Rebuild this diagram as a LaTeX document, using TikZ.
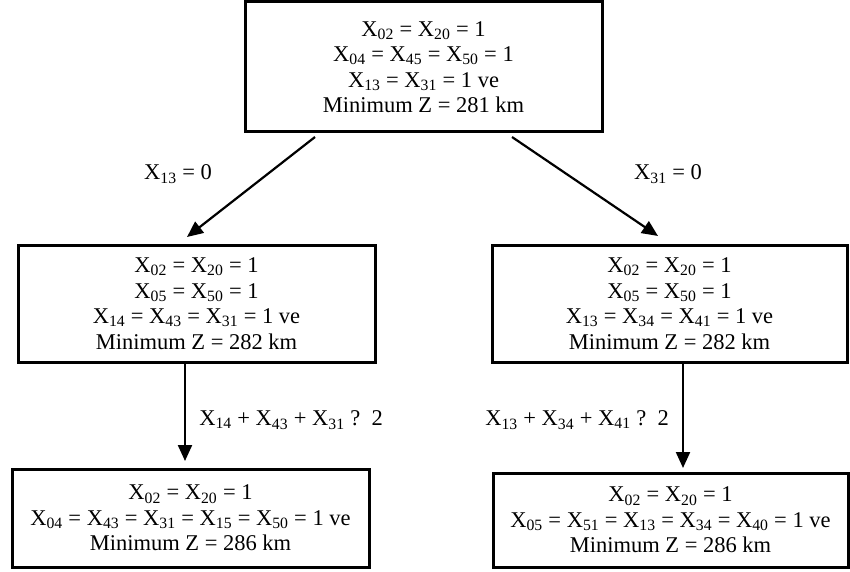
\documentclass[tikz,border=0pt]{standalone}
\usepackage{fontspec}
\setmainfont{Liberation Serif}
\usetikzlibrary{arrows.meta}
\newcommand{\Xs}[1]{X\textsubscript{#1}}
\begin{document}
\begin{tikzpicture}[x=1pt,y=-1pt,
  box/.style={draw,line width=3pt,align=center,inner sep=0pt,
    font=\fontsize{22.5}{25.5}\selectfont},
  lbl/.style={inner sep=0pt,font=\fontsize{22.5}{25.5}\selectfont},
  arr/.style={line width=2.2pt,-{Triangle[length=16pt,width=14pt]}}]
\useasboundingbox (0,0) rectangle (850,572);
\node[box,minimum width=357pt,minimum height=130pt] (top) at (423.5,67)
  {\Xs{02} = \Xs{20} = 1\\ \Xs{04} = \Xs{45} = \Xs{50} = 1\\ \Xs{13} = \Xs{31} = 1 ve\\ Minimum Z = 281 km};
\node[box,minimum width=357pt,minimum height=117pt] (ml) at (196.5,303.5)
  {\Xs{02} = \Xs{20} = 1\\ \Xs{05} = \Xs{50} = 1\\ \Xs{14} = \Xs{43} = \Xs{31} = 1 ve\\ Minimum Z = 282 km};
\node[box,minimum width=355pt,minimum height=117pt] (mr) at (669.5,303.5)
  {\Xs{02} = \Xs{20} = 1\\ \Xs{05} = \Xs{50} = 1\\ \Xs{13} = \Xs{34} = \Xs{41} = 1 ve\\ Minimum Z = 282 km};
\node[box,minimum width=357pt,minimum height=98pt] (bl) at (190.5,518)
  {\Xs{02} = \Xs{20} = 1\\ \Xs{04} = \Xs{43} = \Xs{31} = \Xs{15} = \Xs{50} = 1 ve\\ Minimum Z = 286 km};
\node[box,minimum width=355pt,minimum height=94pt] (br) at (670.5,520)
  {\Xs{02} = \Xs{20} = 1\\ \Xs{05} = \Xs{51} = \Xs{13} = \Xs{34} = \Xs{40} = 1 ve\\ Minimum Z = 286 km};
\coordinate (s1) at (315,137);
\coordinate (e1) at (187,237);
\coordinate (s2) at (512,137);
\coordinate (e2) at (658,236);
\coordinate (e3) at (185,461);
\coordinate (e4) at (683,468);
\draw[arr] (s1) -- (e1);
\draw[arr] (s2) -- (e2);
\draw[arr] (ml.south -| e3) -- (e3);
\draw[arr] (mr.south -| e4) -- (e4);
\node[lbl] (l1) at (178,174) {\Xs{13} = 0};
\node[lbl] (l2) at (668,174) {\Xs{31} = 0};
\node[lbl] (l3) at (291,420) {\Xs{14} + \Xs{43} + \Xs{31} ?\ \ 2};
\node[lbl] (l4) at (577,420) {\Xs{13} + \Xs{34} + \Xs{41} ?\ \ 2};
\end{tikzpicture}
\end{document}
